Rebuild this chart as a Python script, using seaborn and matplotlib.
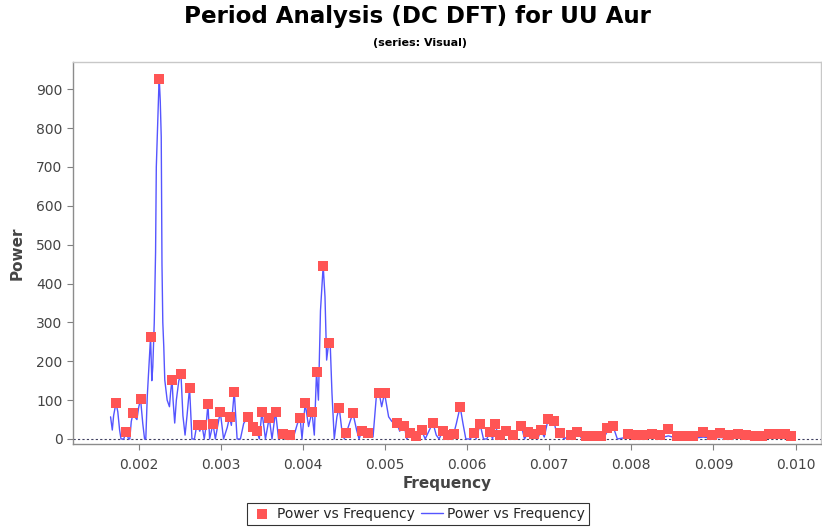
import matplotlib
matplotlib.use('Agg')
import matplotlib.pyplot as plt
import pandas as pd
import seaborn as sns

sns.set_style('white')
plt.rcParams['font.family'] = ['DejaVu Sans']

# DFT peaks (red squares)
peak_freq = [
    0.001725, 0.001847, 0.001935, 0.002024, 0.002146, 0.002252, 0.002407, 0.002516,
    0.002621, 0.002718, 0.002772, 0.002845, 0.002906, 0.002995, 0.003108, 0.003165,
    0.003332, 0.003393, 0.003441, 0.003502, 0.003591, 0.003668, 0.003761, 0.003838,
    0.003968, 0.004029, 0.004111, 0.004167, 0.004248, 0.004315, 0.004443, 0.004520,
    0.004610, 0.004717, 0.004796, 0.004930, 0.004995, 0.005143, 0.005237, 0.005310,
    0.005384, 0.005447, 0.005584, 0.005705, 0.005770, 0.005837, 0.005916, 0.006084,
    0.006159, 0.006281, 0.006345, 0.006403, 0.006480, 0.006565, 0.006662, 0.006744,
    0.006820, 0.006900, 0.006981, 0.007064, 0.007137, 0.007261, 0.007344, 0.007444,
    0.007529, 0.007626, 0.007708, 0.007782, 0.007965, 0.008058, 0.008147, 0.008249,
    0.008351, 0.008452, 0.008554, 0.008655, 0.008756, 0.008878, 0.008980, 0.009081,
    0.009182, 0.009304, 0.009397, 0.009507, 0.009592, 0.009681, 0.009771, 0.009872,
    0.009942,
]
peak_power = [
    93, 19, 68, 103, 263, 926, 153, 167,
    132, 36, 36, 90, 39, 70, 57, 122,
    57, 31, 21, 70, 55, 70, 14, 9,
    53, 92, 70, 173, 446, 247, 81, 16,
    67, 20, 16, 118, 118, 42, 33, 16,
    8, 22, 42, 21, 9, 13, 83, 16,
    38, 19, 38, 9, 20, 11, 33, 17,
    14, 23, 52, 46, 16, 11, 18, 7,
    7, 7, 27, 34, 13, 11, 10, 14,
    9, 25, 8, 8, 8, 19, 10, 16,
    10, 13, 10, 7, 7, 12, 12, 12,
    8,
]

# DFT power spectrum (blue line)
curve_freq = [
    0.001659, 0.001680, 0.001696, 0.001725, 0.001747, 0.001769, 0.001786, 0.001820,
    0.001847, 0.001878, 0.001893, 0.001911, 0.001935, 0.001960, 0.001980, 0.002000,
    0.002024, 0.002051, 0.002073, 0.002088, 0.002106, 0.002130, 0.002146, 0.002161,
    0.002173, 0.002191, 0.002201, 0.002207, 0.002216, 0.002228, 0.002246, 0.002252,
    0.002264, 0.002276, 0.002285, 0.002295, 0.002307, 0.002319, 0.002348, 0.002376,
    0.002390, 0.002407, 0.002420, 0.002440, 0.002460, 0.002490, 0.002516, 0.002540,
    0.002566, 0.002590, 0.002621, 0.002650, 0.002680, 0.002700, 0.002718, 0.002745,
    0.002772, 0.002800, 0.002820, 0.002845, 0.002865, 0.002906, 0.002935, 0.002960,
    0.002995, 0.003035, 0.003080, 0.003108, 0.003130, 0.003165, 0.003200, 0.003240,
    0.003280, 0.003332, 0.003360, 0.003393, 0.003441, 0.003470, 0.003502, 0.003545,
    0.003591, 0.003625, 0.003668, 0.003705, 0.003761, 0.003800, 0.003838, 0.003880,
    0.003935, 0.003968, 0.003990, 0.004029, 0.004070, 0.004111, 0.004140, 0.004167,
    0.004190, 0.004215, 0.004248, 0.004270, 0.004290, 0.004315, 0.004335, 0.004355,
    0.004383, 0.004415, 0.004443, 0.004475, 0.004505, 0.004555, 0.004610, 0.004655,
    0.004685, 0.004717, 0.004757, 0.004796, 0.004855, 0.004895, 0.004930, 0.004960,
    0.004995, 0.005045, 0.005085, 0.005143, 0.005180, 0.005200, 0.005237, 0.005265,
    0.005310, 0.005350, 0.005384, 0.005447, 0.005490, 0.005584, 0.005625, 0.005660,
    0.005705, 0.005770, 0.005837, 0.005870, 0.005916, 0.005950, 0.005985, 0.006040,
    0.006084, 0.006110, 0.006159, 0.006200, 0.006240, 0.006281, 0.006310, 0.006345,
    0.006380, 0.006403, 0.006440, 0.006480, 0.006520, 0.006565, 0.006662, 0.006700,
    0.006744, 0.006820, 0.006860, 0.006900, 0.006940, 0.006981, 0.007020, 0.007064,
    0.007100, 0.007137, 0.007180, 0.007261, 0.007344, 0.007400, 0.007444, 0.007529,
    0.007626, 0.007660, 0.007708, 0.007782, 0.007830, 0.007965, 0.008058, 0.008147,
    0.008249, 0.008351, 0.008452, 0.008554, 0.008655, 0.008756, 0.008878, 0.008980,
    0.009081, 0.009182, 0.009304, 0.009397, 0.009507, 0.009592, 0.009681, 0.009771,
    0.009872, 0.009942,
]
curve_power = [
    57, 23, 60, 93, 70, 23, 0, 0,
    19, 0, 0, 45, 68, 55, 50, 80,
    103, 40, 0, 0, 110, 200, 263, 150,
    185, 300, 420, 480, 700, 780, 900, 926,
    870, 777, 450, 300, 237, 152, 100, 83,
    120, 153, 100, 41, 100, 150, 167, 60,
    10, 60, 132, 0, 0, 25, 36, 20,
    36, 0, 30, 90, 0, 39, 0, 30,
    70, 0, 30, 57, 35, 122, 0, 0,
    40, 57, 40, 31, 21, 0, 70, 0,
    55, 0, 70, 0, 14, 0, 9, 0,
    40, 53, 0, 92, 32, 70, 10, 173,
    100, 330, 446, 366, 203, 247, 236, 118,
    0, 57, 81, 23, 0, 32, 67, 23,
    0, 20, 13, 16, 5, 109, 118, 83,
    118, 57, 45, 42, 20, 35, 33, 0,
    16, 0, 8, 22, 0, 42, 10, 0,
    21, 9, 13, 40, 83, 40, 0, 0,
    16, 0, 38, 0, 0, 19, 0, 38,
    5, 9, 0, 20, 3, 11, 33, 0,
    17, 14, 0, 23, 5, 45, 35, 40,
    5, 16, 0, 11, 18, 0, 7, 7,
    7, 0, 20, 30, 0, 5, 3, 3,
    5, 3, 8, 2, 2, 2, 5, 2,
    4, 2, 3, 2, 1, 1, 2, 2,
    2, 1,
]

y_ticks = [0, 100, 200, 300, 400, 500, 600, 700, 800, 900]
x_ticks = [0.002, 0.003, 0.004, 0.005, 0.006, 0.007, 0.008, 0.009, 0.010]
x_ticklabels = ['0.002', '0.003', '0.004', '0.005', '0.006', '0.007', '0.008', '0.009', '0.010']

peaks = pd.DataFrame({'freq': peak_freq, 'power': peak_power})
curve = pd.DataFrame({'freq': curve_freq, 'power': curve_power})

W, H = 822, 529
fig = plt.figure(figsize=(W / 100, H / 100), dpi=100)
ax = fig.add_axes([73 / W, 1 - 444 / H, (821 - 73) / W, (444 - 62) / H])

ax.axhline(0, color='#404060', lw=0.8, ls=(0, (2, 2)), zorder=1)
sns.lineplot(data=curve, x='freq', y='power', ax=ax, color='#5555FF', lw=1.0,
             label='Power vs Frequency', zorder=2, legend=False)
sns.scatterplot(data=peaks, x='freq', y='power', ax=ax, color='#FF5555', marker='s',
                s=60, linewidth=0, label='Power vs Frequency', zorder=3, legend=False)

ax.set_xlim(0.0012015, 0.01031)
ax.set_ylim(-12.9, 970)
ax.set_yticks(y_ticks)
ax.set_xticks(x_ticks)
ax.set_xticklabels(x_ticklabels)
ax.tick_params(axis='both', which='both', direction='out', length=4, width=0.8,
               color='#808080', labelsize=10, labelcolor='#444444', left=True, bottom=True)
ax.tick_params(axis='x', pad=6)

for side in ['left', 'bottom']:
    ax.spines[side].set_color('#8c8c8c')
    ax.spines[side].set_linewidth(1.0)
for side in ['top', 'right']:
    ax.spines[side].set_color('#c8c8c8')
    ax.spines[side].set_linewidth(1.0)

ax.set_xlabel('Frequency', fontsize=11, fontweight='bold', color='#444444', labelpad=3)
ax.set_ylabel('Power', fontsize=11, fontweight='bold', color='#444444', labelpad=8)

fig.text(417 / W, 1 - 17 / H, 'Period Analysis (DC DFT) for UU Aur', ha='center', va='center',
         fontsize=16.6, fontweight='bold', color='black')
fig.text(420 / W, 1 - 43 / H, '(series: Visual)', ha='center', va='center',
         fontsize=8, fontweight='bold', color='black')

line_handle = ax.lines[-1]
marker_handle = ax.collections[-1]
leg = fig.legend([marker_handle, line_handle], ['Power vs Frequency', 'Power vs Frequency'],
                 ncol=2, loc='center', bbox_to_anchor=(418 / W, 1 - 514 / H),
                 fontsize=10, frameon=True, fancybox=False, borderpad=0.3,
                 handlelength=1.6, handletextpad=0.3, columnspacing=0.4,
                 borderaxespad=0)
leg.get_frame().set_edgecolor('black')
leg.get_frame().set_linewidth(0.8)

fig.savefig('out.png', dpi=100)
